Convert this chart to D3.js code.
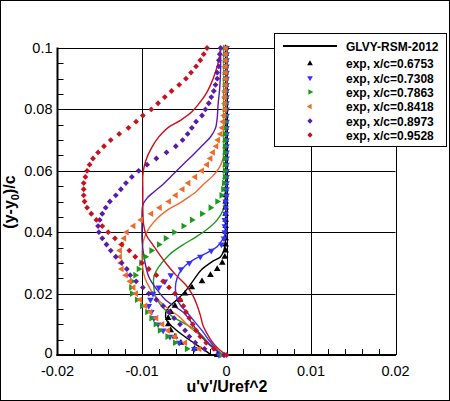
<!DOCTYPE html>
<html>
<head>
<meta charset="utf-8">
<script src="https://cdn.jsdelivr.net/npm/d3@7"></script>
<style>
  body { margin: 0; background: #fff; }
  svg { display: block; font-family: "Liberation Sans", Arial, Helvetica, sans-serif; }
</style>
</head>
<body>
<svg width="450" height="401"></svg>
<script>
// measurement heights, shared by all stations
var yExp = [0.1, 0.098, 0.096, 0.094, 0.092, 0.09, 0.088, 0.086, 0.084, 0.082,
  0.08, 0.078, 0.076, 0.074, 0.072, 0.07, 0.068, 0.066, 0.064, 0.062,
  0.06, 0.058, 0.056, 0.054, 0.052, 0.05, 0.048, 0.046, 0.044, 0.042,
  0.04, 0.038, 0.036, 0.034, 0.032, 0.03, 0.028, 0.026, 0.024, 0.022,
  0.02, 0.018, 0.016, 0.014, 0.012, 0.01, 0.008, 0.006, 0.004, 0.002, 0];

var stations = ["0.6753", "0.7308", "0.7863", "0.8418", "0.8973", "0.9528"];

// u'v'/Uref^2, experiment
var exp6753 = [-0.0001, -0.0001, -0.0001, -0.0001, -0.0001, -0.0001, -0.0001, -0.0001, -0.0001, -0.0001,
  -0.0001, -0.0001, -0.0001, -0.0001, -0.0001, -0.0001, -0.0001, -0.0001, -0.0001, -0.0001,
  -0.0001, -0.0001, -0.0001, -0.0001, -0.0001, -0.0001, -0.0001, -0.0001, -0.0001, -0.0001,
  -0.0001, -0.0001, -0.0001, -0.0001, -0.0002, -0.0005, -0.0011, -0.0019, -0.0029, -0.0041,
  -0.0049, -0.0055, -0.0061, -0.0066, -0.0069, -0.0069, -0.0066, -0.0061, -0.0054, -0.0038, -0.0011];
var exp7308 = [0, 0, 0, 0, 0, 0, 0, 0, 0, 0,
  0, 0, 0, 0, 0, 0, 0, 0, 0, 0,
  0, 0, 0, 0, 0, -0.0001, -0.0001, -0.0001, -0.0002, -0.0002,
  -0.0002, -0.0003, -0.0006, -0.0018, -0.0031, -0.0044, -0.0054, -0.0066, -0.0073, -0.008,
  -0.0087, -0.009, -0.0092, -0.0089, -0.0086, -0.0081, -0.0075, -0.0067, -0.0056, -0.0038, -0.0009];
var exp7863 = [-0.0002, -0.0002, -0.0002, -0.0002, -0.0002, -0.0002, -0.0002, -0.0002, -0.0002, -0.0002,
  -0.0002, -0.0002, -0.0002, -0.0002, -0.0002, -0.0002, -0.0002, -0.0002, -0.0002, -0.0002,
  -0.0002, -0.0002, -0.0003, -0.0004, -0.0006, -0.0011, -0.0019, -0.0029, -0.0041, -0.0051,
  -0.0062, -0.0072, -0.008, -0.0089, -0.0096, -0.0101, -0.0104, -0.0108, -0.0112, -0.0113,
  -0.0112, -0.0106, -0.01, -0.0094, -0.0089, -0.0084, -0.0079, -0.007, -0.0061, -0.0047, -0.0006];
var exp8418 = [-0.0001, -0.0001, -0.0001, -0.0001, -0.0001, -0.0001, -0.0001, -0.0002, -0.0002, -0.0002,
  -0.0002, -0.0003, -0.0004, -0.0005, -0.0007, -0.001, -0.0012, -0.0016, -0.0019, -0.0023,
  -0.0029, -0.0037, -0.0045, -0.0052, -0.006, -0.0068, -0.0079, -0.0089, -0.0101, -0.011,
  -0.0118, -0.0121, -0.0124, -0.0126, -0.0126, -0.0125, -0.0124, -0.0119, -0.0114, -0.011,
  -0.0107, -0.0102, -0.0096, -0.009, -0.0083, -0.0076, -0.0069, -0.0061, -0.0049, -0.0032, -0.0004];
var exp8973 = [-0.0007, -0.0008, -0.0009, -0.0009, -0.0011, -0.0011, -0.0013, -0.0015, -0.0018, -0.0021,
  -0.0025, -0.0029, -0.0036, -0.0041, -0.0046, -0.0052, -0.006, -0.0071, -0.0083, -0.0094,
  -0.0104, -0.0112, -0.0119, -0.0125, -0.0131, -0.0138, -0.0143, -0.0147, -0.015, -0.0152,
  -0.0151, -0.0147, -0.0142, -0.0137, -0.0131, -0.0124, -0.0118, -0.0114, -0.0107, -0.0099,
  -0.0092, -0.0083, -0.0075, -0.0068, -0.0062, -0.0055, -0.0049, -0.0044, -0.0037, -0.0026, -0.0003];
var exp9528 = [-0.0023, -0.0027, -0.0031, -0.0036, -0.0042, -0.0048, -0.0056, -0.0065, -0.0073, -0.0081,
  -0.0089, -0.0099, -0.0107, -0.0116, -0.0127, -0.0137, -0.0145, -0.0152, -0.0158, -0.0162,
  -0.0165, -0.0167, -0.0169, -0.0169, -0.0169, -0.0168, -0.0165, -0.016, -0.0154, -0.0147,
  -0.014, -0.0132, -0.0124, -0.0115, -0.0108, -0.01, -0.0092, -0.0083, -0.0075, -0.0068,
  -0.0061, -0.0055, -0.0051, -0.0048, -0.0044, -0.004, -0.0036, -0.0031, -0.0024, -0.0015, 0];

// GLVY-RSM-2012 profiles, [u'v'/Uref^2, (y-y0)/c]
var rsm6753 = [[0, 0.1], [-0.0001, 0.05], [-0.0001, 0.0375], [-0.0003, 0.0342], [-0.0007, 0.032],
  [-0.0017, 0.0304], [-0.003, 0.0277], [-0.0039, 0.0244], [-0.0046, 0.0217], [-0.0053, 0.0195],
  [-0.0061, 0.0174], [-0.0068, 0.0157], [-0.0072, 0.0136], [-0.0071, 0.0114], [-0.0064, 0.0092],
  [-0.0052, 0.0065], [-0.0038, 0.0038], [-0.0026, 0.0016], [-0.0018, 0]];
var rsm7308 = [[0, 0.1], [-0.0001, 0.0505], [-0.00015, 0.0396], [-0.0005, 0.0375], [-0.0011, 0.0353],
  [-0.0021, 0.0336], [-0.0036, 0.0315], [-0.0048, 0.0293], [-0.0056, 0.0266], [-0.006, 0.0234],
  [-0.006, 0.0201], [-0.0056, 0.0168], [-0.0046, 0.0136], [-0.0036, 0.0103], [-0.0028, 0.0076],
  [-0.0021, 0.0049], [-0.0013, 0.0022], [-0.0006, 0]];
var rsm7863 = [[-0.0001, 0.1], [-0.0001, 0.0668], [-0.0002, 0.0505], [-0.0004, 0.0472], [-0.0011, 0.044],
  [-0.0024, 0.0407], [-0.0036, 0.0385], [-0.0052, 0.0358], [-0.0068, 0.0326], [-0.008, 0.0288],
  [-0.0086, 0.0255], [-0.0086, 0.0222], [-0.0084, 0.019], [-0.0076, 0.0157], [-0.0064, 0.0125],
  [-0.005, 0.0103], [-0.0036, 0.0081], [-0.0028, 0.006], [-0.0019, 0.0033], [-0.0009, 0.0011], [-0.0004, 0]];
var rsm8418 = [[-0.0001, 0.1], [-0.0001, 0.083], [-0.00015, 0.0684], [-0.0004, 0.0641], [-0.0009, 0.0608],
  [-0.0017, 0.0581], [-0.0028, 0.0554], [-0.0036, 0.0532], [-0.0044, 0.0516], [-0.0056, 0.0494],
  [-0.007, 0.0472], [-0.0082, 0.0445], [-0.0092, 0.0412], [-0.0098, 0.0375], [-0.01, 0.032],
  [-0.0098, 0.0266], [-0.0094, 0.0234], [-0.0084, 0.019], [-0.0072, 0.0157], [-0.0056, 0.0125],
  [-0.0044, 0.0092], [-0.0034, 0.007], [-0.0026, 0.0049], [-0.0013, 0.0016], [-0.0003, 0]];
var rsm8973 = [[-0.0007, 0.1], [-0.0007, 0.0928], [-0.0008, 0.087], [-0.001, 0.0814], [-0.0011, 0.0772],
  [-0.0013, 0.0739], [-0.0019, 0.071], [-0.0028, 0.0684], [-0.004, 0.0651], [-0.0052, 0.0619],
  [-0.0064, 0.0586], [-0.0076, 0.0554], [-0.0086, 0.0531], [-0.0094, 0.0511], [-0.0099, 0.0489],
  [-0.01, 0.0456], [-0.01, 0.0423], [-0.01, 0.0375], [-0.0098, 0.0326], [-0.0092, 0.0255],
  [-0.0082, 0.0212], [-0.0072, 0.0179], [-0.0064, 0.0163], [-0.005, 0.0136], [-0.0042, 0.0108],
  [-0.0034, 0.0076], [-0.0026, 0.0049], [-0.0015, 0.0022], [-0.0005, 0]];
var rsm9528 = [[-0.0007, 0.1], [-0.0009, 0.0961], [-0.0013, 0.0922], [-0.0019, 0.0879], [-0.0025, 0.0847],
  [-0.0034, 0.0814], [-0.0041, 0.0792], [-0.0054, 0.0765], [-0.0068, 0.0743], [-0.0076, 0.0723],
  [-0.0083, 0.07], [-0.0088, 0.0678], [-0.0093, 0.0651], [-0.0097, 0.0619], [-0.0099, 0.0586],
  [-0.0099, 0.0537], [-0.0099, 0.0472], [-0.0098, 0.0423], [-0.0095, 0.0391], [-0.0087, 0.0358],
  [-0.0079, 0.0326], [-0.007, 0.0293], [-0.006, 0.0261], [-0.0048, 0.0228], [-0.004, 0.0195],
  [-0.0035, 0.0163], [-0.0031, 0.013], [-0.0028, 0.0098], [-0.0022, 0.0065], [-0.0016, 0.0039],
  [-0.0008, 0.0016], [0, 0]];

var xTicks = [-0.02, -0.01, 0, 0.01, 0.02];
var yTicks = [0, 0.02, 0.04, 0.06, 0.08, 0.1];
var yTickLabels = ["0", "0.02", "0.04", "0.06", "0.08", "0.1"];
var xTickLabels = ["-0.02", "-0.01", "0", "0.01", "0.02"];

var colors = ["#000000", "#3333ff", "#1a9a1a", "#f06a2a", "#5a1aaa", "#c8101e"];
// marker shape: [symbol, rotation]
var shapes = [
  [d3.symbolTriangle, 0],
  [d3.symbolTriangle, 180],
  [d3.symbolTriangle, 90],
  [d3.symbolTriangle, -90],
  [d3.symbolSquare, 45],
  [d3.symbolSquare, 45]
];

var expData = [exp6753, exp7308, exp7863, exp8418, exp8973, exp9528];
var rsmData = [rsm6753, rsm7308, rsm7863, rsm8418, rsm8973, rsm9528];

var svg = d3.select("svg");

svg.append("rect")
  .attr("x", 0.5).attr("y", 0.5)
  .attr("width", 449).attr("height", 400)
  .attr("fill", "#fff").attr("stroke", "#000");

var x = d3.scaleLinear().domain([-0.02, 0.02]).range([57.5, 395.5]);
var y = d3.scaleLinear().domain([0, 0.1]).range([355, 48]);

// grid
var grid = svg.append("g").attr("stroke", "#000").attr("stroke-width", 1);
grid.selectAll(".gx").data(xTicks.slice(1)).enter().append("line")
  .attr("x1", function (d) { return Math.round(x(d)) + 0.5; })
  .attr("x2", function (d) { return Math.round(x(d)) + 0.5; })
  .attr("y1", y(0)).attr("y2", y(0.1));
grid.selectAll(".gy").data(yTicks.slice(1)).enter().append("line")
  .attr("y1", function (d) { return Math.round(y(d)) + 0.5; })
  .attr("y2", function (d) { return Math.round(y(d)) + 0.5; })
  .attr("x1", x(-0.02)).attr("x2", x(0.02));

// minor ticks
var xMinor = x.ticks(20).filter(function (d) { return xTicks.indexOf(+d.toFixed(3)) < 0; });
grid.selectAll(".mx").data(xMinor).enter().append("line")
  .attr("x1", function (d) { return Math.round(x(d)) + 0.5; })
  .attr("x2", function (d) { return Math.round(x(d)) + 0.5; })
  .attr("y1", y(0)).attr("y2", y(0) - 6);
var yMinor = y.ticks(20).filter(function (d) { return yTicks.indexOf(+d.toFixed(3)) < 0; });
grid.selectAll(".my").data(yMinor).enter().append("line")
  .attr("y1", function (d) { return Math.round(y(d)) + 0.5; })
  .attr("y2", function (d) { return Math.round(y(d)) + 0.5; })
  .attr("x1", x(-0.02)).attr("x2", x(-0.02) + 6);

// axes (thicker left and bottom)
svg.append("line").attr("x1", x(-0.02)).attr("x2", x(-0.02))
  .attr("y1", y(0) + 1).attr("y2", y(0.1) - 0.5)
  .attr("stroke", "#000").attr("stroke-width", 2);
svg.append("line").attr("x1", x(-0.02) - 1).attr("x2", x(0.02) + 0.5)
  .attr("y1", y(0)).attr("y2", y(0))
  .attr("stroke", "#000").attr("stroke-width", 2);

// tick labels
svg.append("g").selectAll("text").data(yTicks).enter().append("text")
  .attr("x", x(-0.02) - 5)
  .attr("y", function (d) { return y(d) + (d === 0 ? 3 : 5); })
  .attr("text-anchor", "end")
  .attr("font-size", 14.5)
  .text(function (d, i) { return yTickLabels[i]; });

svg.append("g").selectAll("text").data(xTicks).enter().append("text")
  .attr("x", function (d) { return x(d); })
  .attr("y", y(0) + 21)
  .attr("text-anchor", "middle")
  .attr("font-size", 14.5)
  .text(function (d, i) { return xTickLabels[i]; });

// axis titles
svg.append("text")
  .attr("x", 227).attr("y", 392)
  .attr("text-anchor", "middle")
  .attr("font-size", 16).attr("font-weight", "bold")
  .text("u'v'/Uref^2");

var yt = svg.append("text")
  .attr("transform", "translate(15,202)rotate(-90)")
  .attr("text-anchor", "middle")
  .attr("font-size", 16).attr("font-weight", "bold");
yt.append("tspan").text("(y-y");
yt.append("tspan").attr("font-size", 11).attr("dy", 4).text("0");
yt.append("tspan").attr("dy", -4).text(")/c");

// model lines
var line = d3.line()
  .x(function (d) { return x(d[0]); })
  .y(function (d) { return y(d[1]); })
  .curve(d3.curveCatmullRom);

svg.append("g").selectAll("path").data(rsmData).enter().append("path")
  .attr("d", line)
  .attr("fill", "none")
  .attr("stroke", function (d, i) { return colors[i]; })
  .attr("stroke-width", 1.4);

// experiment markers
expData.forEach(function (xs, i) {
  var sym = d3.symbol().type(shapes[i][0]).size(shapes[i][0] === d3.symbolSquare ? 17 : 19);
  svg.append("g").selectAll("path").data(xs).enter().append("path")
    .attr("d", sym)
    .attr("fill", colors[i])
    .attr("transform", function (d, j) {
      return "translate(" + x(d) + "," + y(yExp[j]) + ")rotate(" + shapes[i][1] + ")";
    });
});

// legend
var lg = svg.append("g").attr("transform", "translate(274,33)");
lg.append("rect").attr("x", 0.5).attr("y", 0.5).attr("width", 172).attr("height", 113)
  .attr("fill", "#fff").attr("stroke", "#000");
var rowY = [13, 30.5, 45, 59, 73.5, 88, 102];
lg.append("line").attr("x1", 9).attr("x2", 63).attr("y1", rowY[0]).attr("y2", rowY[0])
  .attr("stroke", "#000").attr("stroke-width", 2);
lg.append("text").attr("x", 72).attr("y", rowY[0] + 4.5)
  .attr("font-size", 12).attr("font-weight", "bold").text("GLVY-RSM-2012");
stations.forEach(function (s, i) {
  var sym = d3.symbol().type(shapes[i][0]).size(14);
  lg.append("path").attr("d", sym).attr("fill", colors[i])
    .attr("transform", "translate(36," + rowY[i + 1] + ")rotate(" + shapes[i][1] + ")");
  lg.append("text").attr("x", 72).attr("y", rowY[i + 1] + 4.5)
    .attr("font-size", 12).attr("font-weight", "bold").text("exp, x/c=" + s);
});
</script>
</body>
</html>
